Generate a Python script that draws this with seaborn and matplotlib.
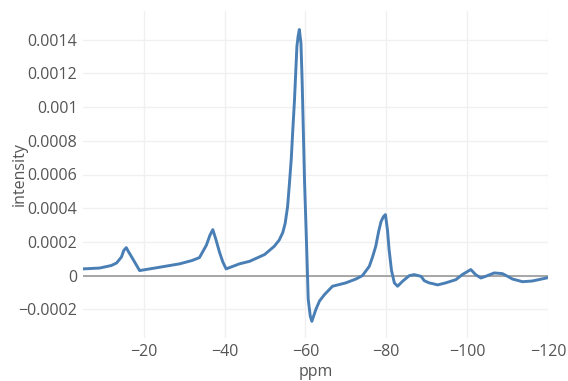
import matplotlib
matplotlib.use("Agg")
import matplotlib.pyplot as plt
import seaborn as sns
import pandas as pd
from matplotlib.ticker import FuncFormatter, FixedLocator

ppm = [-5, -9.1, -12.0, -13.3, -14.5, -15.1, -15.7, -16.3, -17.3, -19.0, -24,
       -28.9, -32.0, -33.8, -35.5, -36.4, -37.1, -37.8, -38.8, -39.6, -40.4,
       -43.7, -46.2, -49.9, -52.3, -53.5, -54.4, -55.0, -55.6, -56.0, -56.5,
       -56.9, -57.3, -57.6, -57.9, -58.2, -58.5, -58.9, -59.2, -59.5, -59.8,
       -60.2, -60.7, -61.2, -61.6, -62.6, -63.5, -64.7, -66.7, -70.0, -72.5,
       -74.1, -75.8, -76.6, -77.4, -78.1, -78.7, -79.3, -79.8, -80.3, -80.7,
       -81.3, -82.0, -82.8, -84.0, -85.7, -86.9, -88.6, -89.4, -90.6, -91.4,
       -92.7, -94.7, -97.2, -98.8, -100.9, -102.1, -103.4, -104.6, -106.7,
       -108.7, -110.0, -111.2, -113.7, -116.1, -120]
intensity = [0.00004, 0.000045, 0.00006, 0.000075, 0.00011, 0.00015, 0.000166,
             0.00014, 0.0001, 0.00003, 0.00005, 0.00007, 0.00009, 0.000107,
             0.00018, 0.00024, 0.000273, 0.00022, 0.000136, 0.00008, 0.00004,
             0.00007, 0.000085, 0.000125, 0.000174, 0.00021, 0.000255, 0.00031,
             0.00041, 0.00053, 0.00069, 0.00087, 0.00104, 0.0012, 0.00136,
             0.00142, 0.00146, 0.00138, 0.00115, 0.00085, 0.00055, 0.000255,
             -0.00014, -0.00024, -0.000271, -0.0002, -0.00015, -0.000113,
             -0.000063, -0.000043, -0.00002, 0.0, 0.000055, 0.00011, 0.000174,
             0.00026, 0.00032, 0.00035, 0.000362, 0.00027, 0.000154, 0.00003,
             -0.000043, -0.000063, -0.000034, 0.0, 0.000006, -0.000004, -0.00003,
             -0.000043, -0.000047, -0.000055, -0.000043, -0.000024, 0.000006,
             0.000036, 0.000006, -0.000014, -0.000004, 0.000016, 0.000012,
             -0.000004, -0.00002, -0.000036, -0.000032, -0.000012]
x_ticks = [-20, -40, -60, -80, -100, -120]
y_ticks = [-0.0002, 0, 0.0002, 0.0004, 0.0006, 0.0008, 0.001, 0.0012, 0.0014]

df = pd.DataFrame({"ppm": ppm, "intensity": intensity})

sns.set_theme(style="white")
plt.rcParams['font.family'] = ['Open Sans', 'DejaVu Sans']

fig = plt.figure(figsize=(5.68, 3.81), dpi=100)
ax = fig.add_axes([83/568, 1-338/381, (548-83)/568, (338-11)/381])

sns.lineplot(data=df, x="ppm", y="intensity", ax=ax, color="#4a7fb5",
             linewidth=2.1, sort=False, estimator=None, zorder=3)

ax.set_xlim(-5, -120)
ax.set_ylim(-0.00037, 0.00157)
ax.xaxis.set_major_locator(FixedLocator(x_ticks))
ax.yaxis.set_major_locator(FixedLocator(y_ticks))
ax.yaxis.set_major_formatter(FuncFormatter(lambda v, p: ("%g" % v).replace("-", "\u2212") if abs(v) > 1e-12 else "0"))
ax.xaxis.set_major_formatter(FuncFormatter(lambda v, p: ("%g" % v).replace("-", "\u2212")))

ax.grid(True, color="#f0f0f0", linewidth=1)
ax.axhline(0, color="#999999", linewidth=1.2, zorder=2)
for s in ax.spines.values():
    s.set_visible(False)
ax.tick_params(length=0, labelsize=11.5, colors="#555555", pad=4)
ax.set_xlabel("ppm", fontsize=11.5, color="#555555", labelpad=3)
ax.set_ylabel("intensity", fontsize=11.5, color="#555555")
ax.yaxis.set_label_coords(-0.118, 0.5)

fig.savefig("out.png", dpi=100)
